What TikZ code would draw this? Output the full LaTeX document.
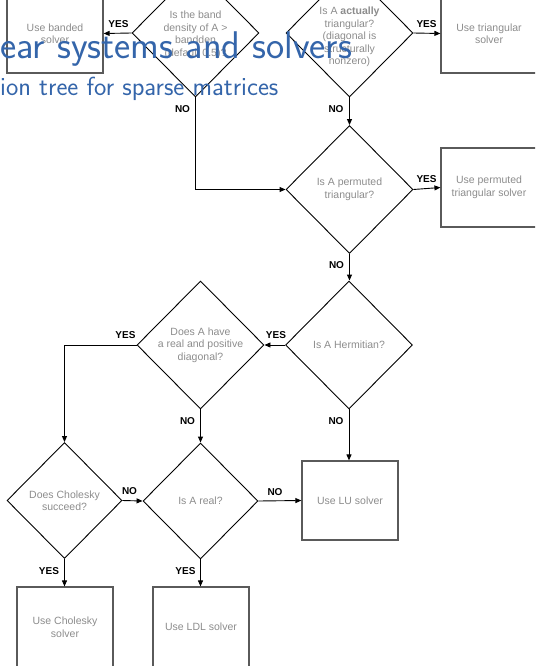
\documentclass[tikz,border=0pt]{standalone}
\usepackage{fontspec}
\newfontfamily\arialfont{Liberation Sans}
\usetikzlibrary{shapes.geometric,arrows.meta}
\definecolor{txtgray}{RGB}{140,140,140}
\definecolor{boxgray}{RGB}{90,90,90}
\definecolor{titleblue}{RGB}{52,101,170}
\begin{document}
\begin{tikzpicture}[x=1pt,y=-1pt,
  dia/.style={draw=black,line width=0.9pt,diamond,shape aspect=1,minimum width=127pt,minimum height=128pt,inner sep=0pt},
  diasm/.style={dia,minimum width=115pt,minimum height=116pt},
  dtext/.style={text=txtgray,font=\arialfont\fontsize{10.5}{12.5}\selectfont,align=center,inner sep=0pt},
  sbox/.style={draw=boxgray,line width=1.2pt,minimum width=96pt,minimum height=79pt,inner sep=0pt,text=txtgray,font=\arialfont\fontsize{10.5}{12.5}\selectfont,align=center},
  arr/.style={draw=black,line width=0.9pt,-{Triangle[length=6pt,width=5pt]}},
  lab/.style={font=\arialfont\bfseries\fontsize{10}{12}\selectfont,inner sep=0pt},
  ttl/.style={anchor=base west,inner sep=0pt,text=titleblue}
]
\useasboundingbox (0,0) rectangle (535,666);
\clip (0,0) rectangle (535,666);

% decision diamonds
\node[dia,label={[dtext,yshift=-2pt]center:{Is the band\\density of A >\\bandden\\(default 0.5)?}}] (d1) at (195.5,33) {};
\node[dia,label={[dtext,yshift=-4pt]center:{Is A {\bfseries actually}\\triangular?\\(diagonal is\\structurally\\nonzero)}}] (d2) at (349.5,33) {};
\node[dia,label={[dtext]center:{Is A permuted\\triangular?}}] (d3) at (349.5,189.5) {};
\node[dia,label={[dtext]center:{Is A Hermitian?}}] (d4) at (349,345) {};
\node[dia,label={[dtext]center:{Does A have\\a real and positive\\diagonal?}}] (d5) at (200.5,345) {};
\node[diasm,label={[dtext]center:{Does Cholesky\\succeed?}}] (d6) at (64.5,500.5) {};
\node[diasm,label={[dtext]center:{Is A real?}}] (d7) at (200.5,501) {};

% solver boxes
\node[sbox] (b1) at (55,33.5) {Use banded\\solver};
\node[sbox] (b2) at (489,33.5) {Use triangular\\solver};
\node[sbox] (b3) at (489,187.5) {Use permuted\\triangular solver};
\node[sbox] (b4) at (350,500.5) {Use LU solver};
\node[sbox,minimum height=80pt] (b5) at (65,627) {Use Cholesky\\solver};
\node[sbox,minimum height=80pt] (b6) at (201,627) {Use LDL solver};

% connectors
\draw[arr] (d1.west) -- (b1.east);
\draw[arr] (d1.south) |- (d3.west);
\draw[arr] (d2.east) -- (b2.west);
\draw[arr] (d2.south) -- (d2.south |- d3.north);
\draw[arr] (d3.east) -- (b3.west);
\draw[arr] (d3.south) -- (d3.south |- d4.north);
\draw[arr] (d4.west) -- (d5.east);
\draw[arr] (d5.west) -| (d6.north);
\draw[arr] (d5.south) -- (d5.south |- d7.north);
\draw[arr] (d4.south) -- (d4.south |- b4.north);
\draw[arr] (d6.east) -- (d7.west);
\draw[arr] (d7.east) -- (b4.west);
\draw[arr] (d6.south) -- (d6.south |- b5.north);
\draw[arr] (d7.south) -- (d7.south |- b6.north);

% connector labels
\node[lab] (l1) at (118.5,24.5) {YES};
\node[lab] (l2) at (182.5,109) {NO};
\node[lab] (l3) at (426.5,24.5) {YES};
\node[lab] (l4) at (336,109.5) {NO};
\node[lab] (l5) at (426.5,179) {YES};
\node[lab] (l6) at (336.5,265) {NO};
\node[lab] (l7) at (276,335) {YES};
\node[lab] (l8) at (125.5,335) {YES};
\node[lab] (l9) at (187.5,421) {NO};
\node[lab] (l10) at (336,421) {NO};
\node[lab] (l11) at (129.5,491) {NO};
\node[lab] (l12) at (275,492) {NO};
\node[lab] (l13) at (49,571) {YES};
\node[lab] (l14) at (185.5,571) {YES};

% slide title overlay
\node[ttl,font=\sffamily\fontsize{38.6}{42}\selectfont] (title) at (0,59) {ear systems and solvers};
\node[ttl,font=\sffamily\fontsize{26.2}{30}\selectfont] (subtitle) at (0,96) {ion tree for sparse matrices};
\end{tikzpicture}
\end{document}
